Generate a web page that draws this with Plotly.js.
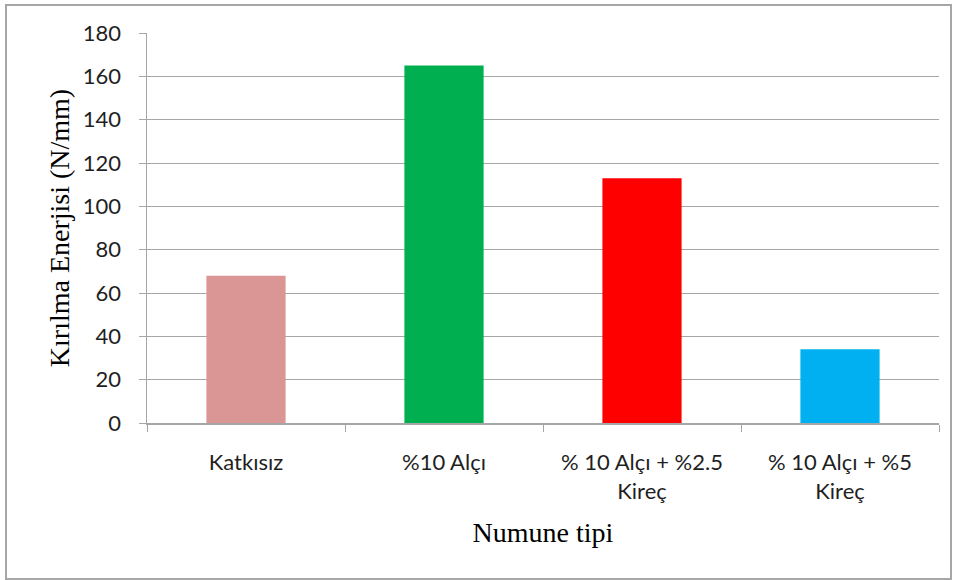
<!DOCTYPE html>
<html>
<head>
<meta charset="utf-8">
<script src="https://cdn.plot.ly/plotly-3.0.1.min.js"></script>
<style>
  html, body { margin: 0; padding: 0; background: #fff; }
  #wrap { position: relative; width: 956px; height: 580px; }
  #chart { position: absolute; left: 0; top: 0; width: 956px; height: 580px; }
  #frame { position: absolute; left: 5px; top: 4px; width: 943px; height: 572px; border: 2px solid #a6a6a6; pointer-events: none; }
</style>
</head>
<body>
<div id="wrap">
  <div id="chart"></div>
  <div id="frame"></div>
</div>
<script>
const categories = ["Katkısız", "%10 Alçı", "% 10 Alçı + %2.5<br>Kireç", "% 10 Alçı + %5<br>Kireç"];
const values = [68, 165, 113, 34];
const barColors = ["#d99694", "#00b050", "#ff0000", "#00b0f0"];
const yTicks = [0, 20, 40, 60, 80, 100, 120, 140, 160, 180];

const trace = {
  type: "bar",
  x: categories,
  y: values,
  marker: { color: barColors, line: { width: 0 } },
  hoverinfo: "x+y"
};

const tickFont = { family: "Lato, 'Open Sans', sans-serif", size: 22, color: "#1f1f1f" };
const titleFont = { family: "'Liberation Serif', 'Times New Roman', serif", size: 28, color: "#000" };

const layout = {
  width: 956,
  height: 580,
  margin: { l: 147, r: 17, t: 33, b: 157 },
  paper_bgcolor: "#ffffff",
  plot_bgcolor: "#ffffff",
  bargap: 0.6,
  showlegend: false,
  xaxis: {
    type: "category",
    tickson: "boundaries",
    ticks: "outside",
    ticklen: 7,
    tickcolor: "#a6a6a6",
    showline: true,
    linecolor: "#a6a6a6",
    linewidth: 1.5,
    showgrid: false,
    ticklabelstandoff: 19,
    tickfont: tickFont,
    title: { text: "Numune tipi", font: titleFont, standoff: 20 }
  },
  yaxis: {
    range: [0, 180],
    tickvals: yTicks,
    ticktext: yTicks.map(String),
    ticks: "outside",
    ticklen: 7,
    tickcolor: "#a6a6a6",
    showline: true,
    linecolor: "#a6a6a6",
    linewidth: 1.5,
    showgrid: true,
    gridcolor: "#a6a6a6",
    gridwidth: 1,
    zeroline: false,
    ticklabelstandoff: 13,
    tickfont: tickFont,
    title: { text: "Kırılma Enerjisi (N/mm)", font: titleFont, standoff: 5 }
  }
};

Plotly.newPlot("chart", [trace], layout, { displayModeBar: false, staticPlot: true });
</script>
</body>
</html>
